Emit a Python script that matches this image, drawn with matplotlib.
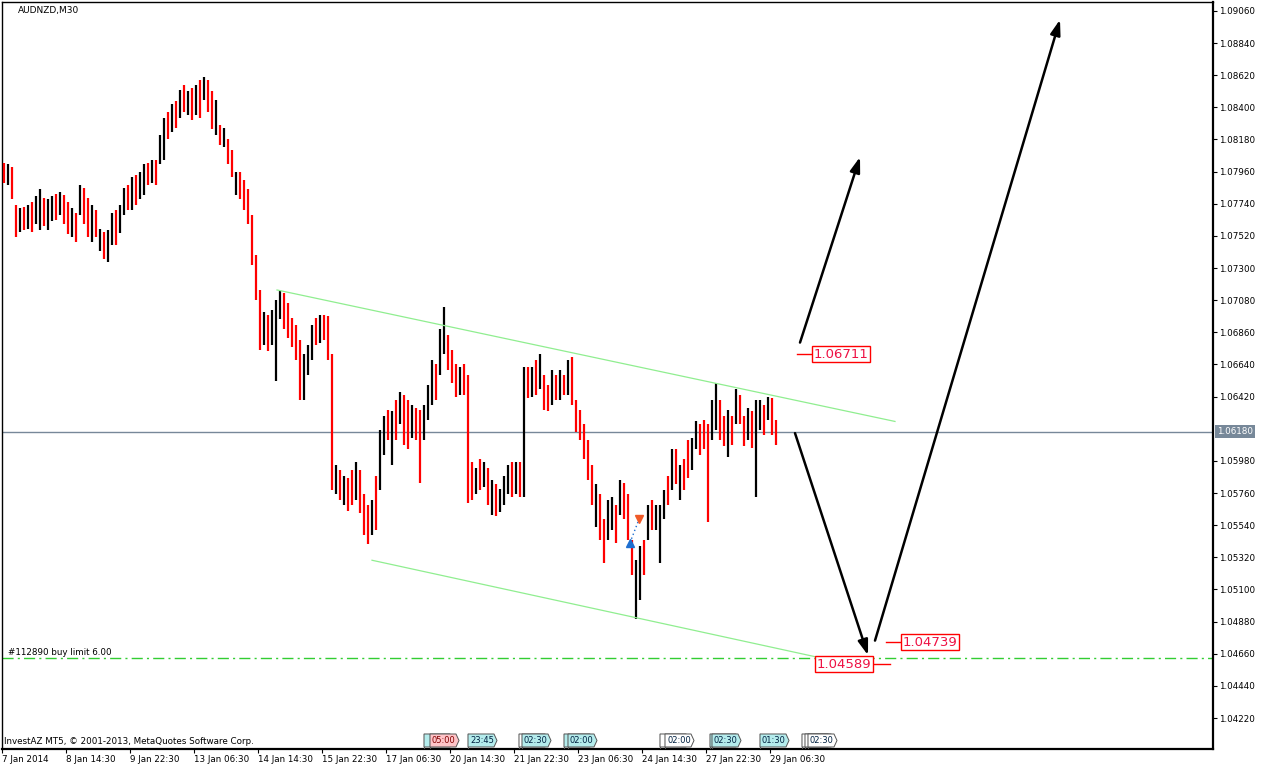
import matplotlib
matplotlib.use("Agg")
import matplotlib.pyplot as plt
from matplotlib.patches import Polygon
from matplotlib.transforms import blended_transform_factory

plt.rcParams['font.family'] = ['DejaVu Sans']

# -----------------------------------------------------------------------------
# DATA
# -----------------------------------------------------------------------------
SYMBOL = "AUDNZD,M30"
BARS_PER_COLUMN = 4   # one drawn column = 4 M30 bars (2 hours)

col_high = [
    1.0802, 1.0801, 1.0799, 1.0773, 1.0771, 1.0772, 1.0773, 1.0775, 1.0779, 1.0784,
    1.0778, 1.0777, 1.0779, 1.0781, 1.0782, 1.0780, 1.0775, 1.0771, 1.0768, 1.0787,
    1.0785, 1.0778, 1.0773, 1.0770, 1.0757, 1.0755, 1.0756, 1.0768, 1.0770, 1.0773,
    1.0785, 1.0787, 1.0792, 1.0794, 1.0796, 1.0801, 1.0802, 1.0804, 1.0804, 1.0821,
    1.0833, 1.0837, 1.0842, 1.0844, 1.0852, 1.0855, 1.0851, 1.0853, 1.0855, 1.0859,
    1.0861, 1.0859, 1.0851, 1.0845, 1.0828, 1.0826, 1.0818, 1.0811, 1.0796, 1.0796,
    1.0790, 1.0784, 1.0766, 1.0739, 1.0715, 1.0700, 1.0698, 1.0701, 1.0708, 1.0714,
    1.0713, 1.0706, 1.0696, 1.0691, 1.0681, 1.0671, 1.0677, 1.0691, 1.0696, 1.0698,
    1.0698, 1.0697, 1.0671, 1.0595, 1.0592, 1.0588, 1.0586, 1.0592, 1.0597, 1.0592,
    1.0575, 1.0568, 1.0571, 1.0588, 1.0619, 1.0629, 1.0633, 1.0632, 1.0640, 1.0645,
    1.0643, 1.0640, 1.0636, 1.0634, 1.0633, 1.0636, 1.0650, 1.0667, 1.0664, 1.0688,
    1.0703, 1.0684, 1.0674, 1.0664, 1.0662, 1.0664, 1.0657, 1.0597, 1.0593, 1.0599,
    1.0597, 1.0593, 1.0585, 1.0582, 1.0579, 1.0588, 1.0595, 1.0597, 1.0597, 1.0597,
    1.0662, 1.0662, 1.0662, 1.0667, 1.0671, 1.0657, 1.0650, 1.0660, 1.0657, 1.0660,
    1.0657, 1.0667, 1.0669, 1.0640, 1.0633, 1.0623, 1.0612, 1.0595, 1.0582, 1.0575,
    1.0558, 1.0571, 1.0573, 1.0568, 1.0585, 1.0583, 1.0575, 1.0544, 1.0530, 1.0540,
    1.0544, 1.0568, 1.0571, 1.0568, 1.0568, 1.0578, 1.0588, 1.0606, 1.0606, 1.0595,
    1.0599, 1.0612, 1.0614, 1.0625, 1.0623, 1.0626, 1.0623, 1.0640, 1.0651, 1.0640,
    1.0629, 1.0633, 1.0629, 1.0647, 1.0643, 1.0629, 1.0634, 1.0632, 1.0640, 1.0640,
    1.0636, 1.0642, 1.0641, 1.0626,
]
col_low = [
    1.0788, 1.0787, 1.0777, 1.0751, 1.0755, 1.0756, 1.0757, 1.0755, 1.0760, 1.0756,
    1.0759, 1.0756, 1.0762, 1.0763, 1.0766, 1.0760, 1.0753, 1.0751, 1.0748, 1.0766,
    1.0760, 1.0751, 1.0748, 1.0751, 1.0742, 1.0736, 1.0734, 1.0746, 1.0746, 1.0754,
    1.0766, 1.0770, 1.0770, 1.0773, 1.0777, 1.0780, 1.0787, 1.0788, 1.0787, 1.0801,
    1.0804, 1.0818, 1.0823, 1.0826, 1.0833, 1.0837, 1.0835, 1.0831, 1.0835, 1.0833,
    1.0845, 1.0837, 1.0825, 1.0821, 1.0814, 1.0813, 1.0801, 1.0792, 1.0780, 1.0777,
    1.0770, 1.0760, 1.0732, 1.0708, 1.0674, 1.0677, 1.0673, 1.0677, 1.0653, 1.0695,
    1.0688, 1.0682, 1.0676, 1.0667, 1.0640, 1.0640, 1.0657, 1.0667, 1.0677, 1.0679,
    1.0681, 1.0667, 1.0578, 1.0575, 1.0571, 1.0568, 1.0564, 1.0568, 1.0571, 1.0562,
    1.0547, 1.0541, 1.0547, 1.0551, 1.0578, 1.0602, 1.0612, 1.0595, 1.0612, 1.0623,
    1.0609, 1.0606, 1.0614, 1.0612, 1.0583, 1.0612, 1.0626, 1.0636, 1.0640, 1.0657,
    1.0671, 1.0660, 1.0651, 1.0642, 1.0643, 1.0643, 1.0569, 1.0571, 1.0575, 1.0578,
    1.0580, 1.0568, 1.0561, 1.0560, 1.0563, 1.0568, 1.0575, 1.0573, 1.0575, 1.0573,
    1.0573, 1.0641, 1.0642, 1.0643, 1.0647, 1.0633, 1.0632, 1.0636, 1.0640, 1.0640,
    1.0643, 1.0643, 1.0636, 1.0618, 1.0612, 1.0599, 1.0585, 1.0568, 1.0553, 1.0544,
    1.0528, 1.0544, 1.0551, 1.0542, 1.0561, 1.0558, 1.0544, 1.0520, 1.0490, 1.0503,
    1.0520, 1.0544, 1.0551, 1.0551, 1.0528, 1.0558, 1.0568, 1.0578, 1.0582, 1.0571,
    1.0578, 1.0586, 1.0592, 1.0606, 1.0602, 1.0606, 1.0556, 1.0612, 1.0619, 1.0612,
    1.0608, 1.0601, 1.0609, 1.0623, 1.0623, 1.0608, 1.0612, 1.0607, 1.0573, 1.0619,
    1.0616, 1.0626, 1.0616, 1.0609,
]
# r = bearish (red), k = bullish (black)
col_dir = ("rkrrkrkrkk" "rkkrkrrkrk" "rrkrkrkkrk" "krkrkkrkrk" "krkrkrkrkr"
           "krrkrkrrkr" "rrrrrkrkkk" "rrrrrkkkrk" "rrrkrkrrkr" "rrkrkkrkrk"
           "rrkrrkkkrk" "krrrkrrrkr" "krkrkkkrkr" "krkrkrrkrk" "rkrrrrrrkr"
           "rkkrkrrrkk" "rkrkkkrkrk" "rrkkrrrkkr" "rkrkrrkrkk" "rkrr")

price_ticks = [1.0906, 1.0884, 1.0862, 1.0840, 1.0818, 1.0796, 1.0774, 1.0752,
               1.0730, 1.0708, 1.0686, 1.0664, 1.0642, 1.0598, 1.0576, 1.0554,
               1.0532, 1.0510, 1.0488, 1.0466, 1.0444, 1.0422]
date_bars = [0, 64, 128, 192, 256, 320, 384, 448, 512, 576, 640, 704, 768]
date_labels = ["7 Jan 2014", "8 Jan 14:30", "9 Jan 22:30", "13 Jan 06:30",
               "14 Jan 14:30", "15 Jan 22:30", "17 Jan 06:30", "20 Jan 14:30",
               "21 Jan 22:30", "23 Jan 06:30", "24 Jan 14:30", "27 Jan 22:30",
               "29 Jan 06:30"]

last_price = 1.06180
order_price = 1.0463
order_text = "#112890 buy limit 6.00"

# channel lines (bar, price)
upper_bars, upper_prices = [275, 893], [1.0715, 1.0625]
lower_bars, lower_prices = [370, 813], [1.0530, 1.0464]

# forecast arrows: (tail bar, tail price, head bar, head price)
arrows = [(798, 1.0679, 858, 1.0806),
          (793, 1.0617, 866, 1.0465),
          (873, 1.0475, 1058, 1.0900)]

# price labels: (price, tick start bar, tick end bar, box left bar)
price_labels = [(1.06711, 795, 811, 812),
                (1.04739, 884, 900, 901),
                (1.04589, 872, 888, 815)]

# trade history markers
deal_in = (628, 1.0542)
deal_out = (637, 1.0558)

# calendar flags at the bottom: (bar, text, colour); "" = flag hidden behind the next one
flags = [(422, "", "#b4ecec"), (428, "05:00", "#ffc4c8"),
         (466, "23:45", "#b4ecec"), (517, "", "white"),
         (520, "02:30", "#b4ecec"), (562, "", "#b4ecec"),
         (566, "02:00", "#b4ecec"), (658, "", "white"),
         (663, "02:00", "white"), (708, "", "#b4ecec"),
         (710, "02:30", "#b4ecec"), (758, "01:30", "#b4ecec"),
         (800, "", "white"), (803, "", "white"),
         (806, "02:30", "white")]

# -----------------------------------------------------------------------------
# PLOT
# -----------------------------------------------------------------------------
fig = plt.figure(figsize=(12.68, 7.71), dpi=100)
ax = fig.add_axes([2 / 1268, 22 / 771, 1211 / 1268, 747 / 771])
ax.set_xlim(0, 1211)
ax.set_ylim(1.04008, 1.09121)

xs = [i * BARS_PER_COLUMN + 2 for i in range(len(col_high))]
colors = ['#ff0000' if d == 'r' else '#000000' for d in col_dir]
ax.vlines(xs, col_low, col_high, colors=colors, linewidth=1.6, zorder=3)

# horizontal lines
ax.axhline(last_price, color='#778899', lw=1.0, zorder=2)
ax.axhline(order_price, color='#32cd32', lw=1.0, dashes=(8, 3, 1.5, 3), zorder=2)
ax.text(6, order_price + 0.00007, order_text, fontsize=6.3, va='bottom', ha='left')

# channel
ax.plot(upper_bars, upper_prices, color='#90ee90', lw=0.9, zorder=4)
ax.plot(lower_bars, lower_prices, color='#90ee90', lw=0.9, zorder=4)

# arrows
for x0, y0, x1, y1 in arrows:
    ax.annotate("", xy=(x1, y1), xytext=(x0, y0),
                arrowprops=dict(arrowstyle='-|>,head_length=0.9,head_width=0.3',
                                color='black', lw=1.8, shrinkA=0, shrinkB=0),
                zorder=6)

# price labels
for price, t0, t1, bx in price_labels:
    ax.plot([t0, t1], [price, price], color='red', lw=1.0, zorder=6)
    ax.text(bx, price, f"{price:.5f}", fontsize=9.5, color='#ee1144',
            ha='left', va='center', zorder=7,
            bbox=dict(boxstyle='square,pad=0.12', fc='white', ec='red', lw=1.0))

# trade markers
ax.plot([deal_in[0], deal_out[0]], [deal_in[1], deal_out[1]], color='#1e6fd0',
        lw=1.0, ls=(0, (1, 2)), zorder=5)
ax.plot(*deal_in, marker='^', color='#1e6fd0', ms=6, zorder=6)
ax.plot(*deal_out, marker='v', color='#f05a28', ms=6, zorder=6)

# calendar flags
trans = blended_transform_factory(ax.transData, ax.transAxes)
y0, y1 = 0.0027, 0.0201
for k, (bx, txt, fc) in enumerate(flags):
    z = 8 + k
    ax.plot([bx, bx], [0, y1], color='#555555', lw=0.8, transform=trans, zorder=z)
    poly = Polygon([(bx, y0), (bx + 26, y0), (bx + 29, (y0 + y1) / 2),
                    (bx + 26, y1), (bx, y1)], closed=True, fc=fc, ec='#555555',
                   lw=0.7, transform=trans, zorder=z)
    ax.add_patch(poly)
    if txt:
        ax.text(bx + 2, (y0 + y1) / 2, txt, fontsize=6, transform=trans,
                va='center', ha='left', zorder=z,
                color='#800000' if fc.startswith('#ffc') else '#002040')

# texts
ax.text(16 / 1211, 1 - 4 / 747, SYMBOL, transform=ax.transAxes, fontsize=6.5,
        va='top', ha='left')
ax.text(2 / 1211, 7 / 747, "InvestAZ MT5, \u00a9 2001-2013, MetaQuotes Software Corp.",
        transform=ax.transAxes, fontsize=6.3, va='center', ha='left')

# axes styling
ax.yaxis.tick_right()
ax.set_yticks(price_ticks)
ax.set_yticklabels([f"{p:.5f}" for p in price_ticks])
ax.set_xticks(date_bars)
ax.set_xticklabels(date_labels, ha='left')
ax.tick_params(axis='y', direction='out', length=3, width=0.8, labelsize=6.3, pad=1.5)
ax.tick_params(axis='x', direction='out', length=3, width=0.8, labelsize=6.3, pad=1.5)
for side in ['left', 'top']:
    ax.spines[side].set_linewidth(1.0)
for side in ['right', 'bottom']:
    ax.spines[side].set_linewidth(1.6)

ax.text(1 + 4 / 1211, last_price, f"{last_price:.5f}",
        transform=blended_transform_factory(ax.transAxes, ax.transData),
        fontsize=6.3, color='white', va='center', ha='left', clip_on=False,
        bbox=dict(boxstyle='square,pad=0.2', fc='#778899', ec='none'))

fig.savefig('out.png', dpi=100)
plt.close(fig)
